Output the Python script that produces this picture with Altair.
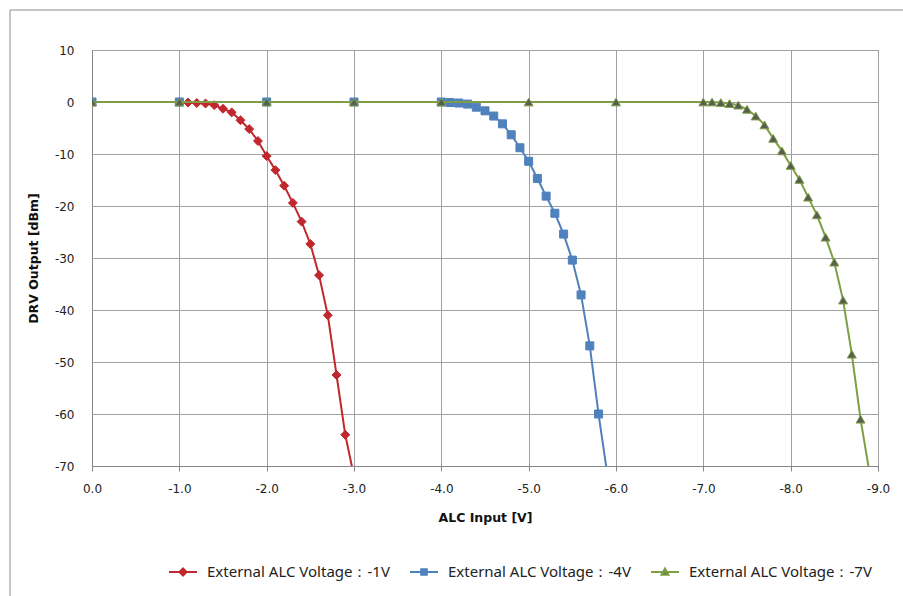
import altair as alt
import pandas as pd

# ---- data ----
red_x = [0.0, -1.0, -1.1, -1.2, -1.3, -1.4, -1.5, -1.6, -1.7, -1.8, -1.9, -2.0,
         -2.1, -2.2, -2.3, -2.4, -2.5, -2.6, -2.7, -2.8, -2.9, -3.0]
red_y = [0.0, 0.0, -0.1, -0.2, -0.3, -0.6, -1.3, -2.0, -3.5, -5.2, -7.5, -10.4,
         -13.1, -16.1, -19.4, -23.0, -27.3, -33.3, -41.0, -52.5, -64.0, -72.0]

blue_x = [0.0, -1.0, -2.0, -3.0, -4.0, -4.1, -4.2, -4.3, -4.4, -4.5, -4.6, -4.7,
          -4.8, -4.9, -5.0, -5.1, -5.2, -5.3, -5.4, -5.5, -5.6, -5.7, -5.8, -5.9]
blue_y = [0.0, 0.0, 0.0, 0.0, 0.0, -0.1, -0.2, -0.4, -1.0, -1.7, -2.7, -4.2,
          -6.3, -8.8, -11.4, -14.7, -18.1, -21.4, -25.4, -30.4, -37.1, -46.9, -60.0, -71.5]

green_x = [0.0, -1.0, -2.0, -3.0, -4.0, -5.0, -6.0, -7.0, -7.1, -7.2, -7.3, -7.4,
           -7.5, -7.6, -7.7, -7.8, -7.9, -8.0, -8.1, -8.2, -8.3, -8.4, -8.5, -8.6,
           -8.7, -8.8, -8.9]
green_y = [0.0, 0.0, 0.0, 0.0, 0.0, 0.0, 0.0, 0.0, 0.0, -0.1, -0.3, -0.6,
           -1.4, -2.7, -4.4, -7.0, -9.4, -12.2, -14.9, -18.3, -21.7, -26.0, -30.8, -38.1,
           -48.5, -61.0, -71.0]

series_names = ["External ALC Voltage：-1V",
                "External ALC Voltage：-4V",
                "External ALC Voltage：-7V"]
line_colors = ["#C0282D", "#4F81BD", "#7E9D45"]
fill_colors = ["#C0282D", "#4F81BD", "#555E50"]
marker_shapes = ["diamond", "square", "triangle-up"]
marker_sizes = [80, 64, 80]
legend_paths = [
    "M-1,0L1,0M0,-0.25L0.25,0L0,0.25L-0.25,0Z",
    "M-1,0L1,0M-0.2,-0.2L0.2,-0.2L0.2,0.2L-0.2,0.2Z",
    "M-1,0L1,0M0,-0.25L0.25,0.2L-0.25,0.2Z",
]

x_ticks = [0, -1, -2, -3, -4, -5, -6, -7, -8, -9]
y_ticks = [10, 0, -10, -20, -30, -40, -50, -60, -70]

frames = []
for name, xs, ys in [(series_names[0], red_x, red_y),
                     (series_names[1], blue_x, blue_y),
                     (series_names[2], green_x, green_y)]:
    frames.append(pd.DataFrame({"series": name, "x": xs, "y": ys}))
df = pd.concat(frames, ignore_index=True)

W, H = 786, 416
GRID = "#A0A0A0"
TICKFONT = "DejaVu Sans"

x_enc = alt.X("x:Q", scale=alt.Scale(domain=[0, -9], nice=False, zero=False),
              axis=alt.Axis(values=x_ticks, title="ALC Input [V]",
                            labelExpr="replace(format(datum.value, '.1f'), '\u2212', '-')",
                            labelFlush=False, labelOverlap=False,
                            grid=True, gridColor=GRID, gridWidth=1,
                            domainColor="#868686", tickColor="#868686", tickSize=5,
                            labelFont=TICKFONT, labelFontSize=12, labelColor="#222",
                            labelPadding=12, titleFont=TICKFONT, titleFontSize=12.5,
                            titleFontWeight="bold", titleColor="#111", titlePadding=17))
y_enc = alt.Y("y:Q", scale=alt.Scale(domain=[-70, 10], nice=False, zero=False),
              axis=alt.Axis(values=y_ticks, title="DRV Output [dBm]",
                            labelExpr="replace(format(datum.value, 'd'), '\u2212', '-')",
                            labelFlush=False, labelOverlap=False,
                            grid=True, gridColor=GRID, gridWidth=1,
                            domainColor="#868686", ticks=False,
                            labelFont=TICKFONT, labelFontSize=12, labelColor="#222",
                            labelPadding=18, titleFont=TICKFONT, titleFontSize=12.5,
                            titleFontWeight="bold", titleColor="#111", titlePadding=14))

base = alt.Chart(df)

# outer frame of the chart area
frame = alt.Chart(pd.DataFrame({"a": [0]})).mark_rect(
    fill="transparent", stroke="#8C8C8C", strokeWidth=1, clip=False
).encode(x=alt.value(-82), x2=alt.value(W + 40), y=alt.value(-40), y2=alt.value(H + 160))

layers = [frame]
layers.append(base.mark_point(opacity=0).encode(x=x_enc, y=y_enc))
for i, name in enumerate(series_names):
    sub = base.transform_filter(alt.datum.series == name)
    layers.append(sub.mark_line(color=line_colors[i], strokeWidth=2, clip=True)
                  .encode(x="x:Q", y="y:Q"))
    layers.append(sub.mark_point(shape=marker_shapes[i], size=marker_sizes[i],
                                 filled=True, fill=fill_colors[i], stroke=line_colors[i],
                                 strokeWidth=1, opacity=1, clip=True)
                  .encode(x="x:Q", y="y:Q"))

# legend-only layer (draws no marks)
legend = alt.Legend(orient="none", direction="horizontal", title=None,
                    legendX=76, legendY=507, symbolSize=784, symbolStrokeWidth=2,
                    symbolOpacity=1, labelFont="Noto Sans", labelFontSize=15,
                    labelLimit=0, labelColor="#222", labelOffset=9, columnPadding=16)
legend_layer = base.transform_filter("false").mark_point(filled=True, opacity=1).encode(
    x="x:Q", y="y:Q",
    fill=alt.Fill("series:N", scale=alt.Scale(domain=series_names, range=fill_colors), legend=legend),
    stroke=alt.Stroke("series:N", scale=alt.Scale(domain=series_names, range=line_colors), legend=legend),
    shape=alt.Shape("series:N", scale=alt.Scale(domain=series_names, range=legend_paths), legend=legend),
)
layers.append(legend_layer)

chart = alt.layer(*layers).properties(
    width=W, height=H,
    padding={"left": 92, "top": 50, "right": 25, "bottom": 130},
    autosize=alt.AutoSizeParams(type="none"),
    background="white",
).configure_view(stroke=GRID, strokeWidth=1)

chart.save("out.html", embed_options={"renderer": "svg", "actions": False})
